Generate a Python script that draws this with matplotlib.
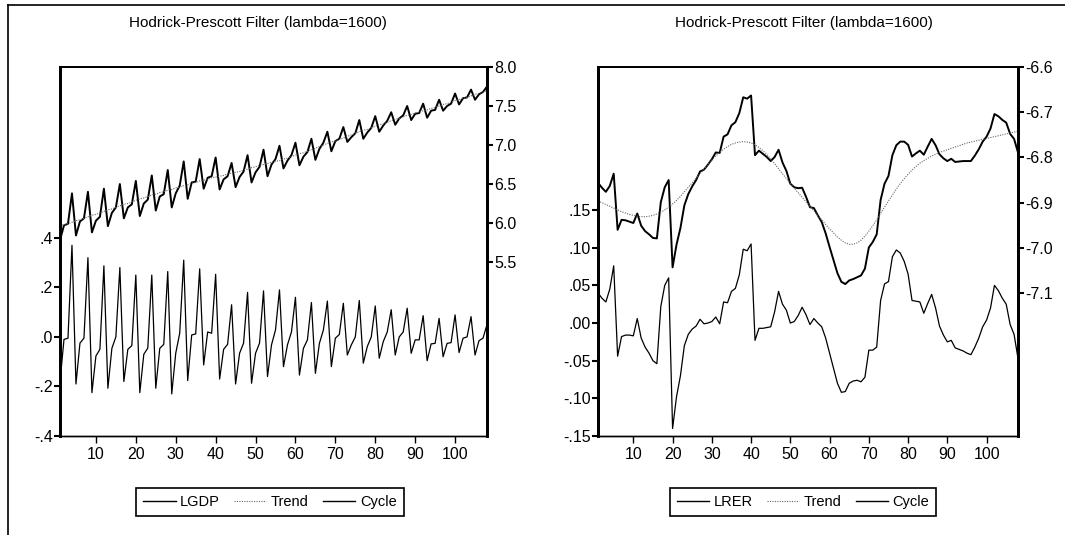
import matplotlib
matplotlib.use("Agg")
import matplotlib.pyplot as plt
from matplotlib.lines import Line2D

plt.rcParams['font.family'] = ['Liberation Sans', 'DejaVu Sans']

# quarterly observations 1..108
obs = list(range(1, 109))

# left panel: log GDP, its HP trend and the cycle
lgdp = [5.78, 5.97, 5.99, 6.38, 5.84, 6.02, 6.06, 6.40, 5.88, 6.03, 6.08, 6.44,
        5.96, 6.13, 6.20, 6.50, 6.06, 6.20, 6.24, 6.54, 6.09, 6.25, 6.30, 6.61,
        6.16, 6.34, 6.37, 6.68, 6.20, 6.38, 6.48, 6.79, 6.31, 6.52, 6.53, 6.82,
        6.44, 6.58, 6.60, 6.84, 6.43, 6.56, 6.60, 6.77, 6.46, 6.59, 6.66, 6.87,
        6.52, 6.65, 6.72, 6.94, 6.60, 6.75, 6.82, 6.99, 6.70, 6.80, 6.87, 7.03,
        6.74, 6.85, 6.91, 7.08, 6.81, 6.95, 7.03, 7.17, 6.92, 7.05, 7.08, 7.23,
        7.04, 7.10, 7.15, 7.32, 7.08, 7.16, 7.22, 7.37, 7.17, 7.25, 7.31, 7.42,
        7.26, 7.34, 7.38, 7.50, 7.32, 7.40, 7.41, 7.53, 7.35, 7.44, 7.45, 7.58,
        7.44, 7.50, 7.53, 7.66, 7.52, 7.60, 7.61, 7.71, 7.58, 7.65, 7.68, 7.75]
lgdp_trend = [5.96, 5.98, 5.99, 6.01, 6.03, 6.04, 6.06, 6.08, 6.10, 6.11, 6.13, 6.15,
              6.17, 6.18, 6.20, 6.22, 6.24, 6.25, 6.27, 6.29, 6.31, 6.32, 6.34, 6.36,
              6.37, 6.39, 6.40, 6.42, 6.43, 6.45, 6.46, 6.48, 6.49, 6.51, 6.52, 6.54,
              6.55, 6.56, 6.58, 6.59, 6.60, 6.61, 6.63, 6.64, 6.65, 6.66, 6.68, 6.69,
              6.71, 6.72, 6.74, 6.75, 6.76, 6.78, 6.79, 6.80, 6.82, 6.83, 6.85, 6.87,
              6.89, 6.90, 6.92, 6.94, 6.96, 6.98, 7.00, 7.02, 7.04, 7.05, 7.07, 7.09,
              7.11, 7.13, 7.15, 7.17, 7.19, 7.20, 7.22, 7.24, 7.26, 7.27, 7.29, 7.31,
              7.33, 7.34, 7.36, 7.38, 7.39, 7.41, 7.42, 7.44, 7.45, 7.47, 7.48, 7.50,
              7.52, 7.53, 7.55, 7.57, 7.58, 7.60, 7.61, 7.63, 7.65, 7.66, 7.68, 7.70]
lgdp_cycle = [-0.18, -0.01, -0.005, 0.37, -0.19, -0.025, -0.005, 0.32,
              -0.225, -0.077, -0.05, 0.287, -0.207, -0.046, 0.0, 0.28,
              -0.18, -0.05, -0.035, 0.25, -0.225, -0.07, -0.045, 0.25,
              -0.207, -0.046, -0.03, 0.264, -0.23, -0.066, 0.015, 0.31,
              -0.176, 0.008, 0.012, 0.275, -0.113, 0.02, 0.015, 0.253,
              -0.17, -0.05, -0.03, 0.13, -0.19, -0.066, -0.025, 0.18,
              -0.187, -0.066, -0.025, 0.186, -0.16, -0.032, 0.028, 0.19,
              -0.12, -0.032, 0.02, 0.16, -0.154, -0.046, -0.012, 0.139,
              -0.147, -0.026, 0.028, 0.145, -0.12, -0.005, 0.01, 0.136,
              -0.073, -0.032, 0.0, 0.147, -0.106, -0.039, 0.0, 0.125,
              -0.086, -0.019, 0.02, 0.11, -0.073, 0.0, 0.02, 0.116,
              -0.066, -0.012, -0.012, 0.086, -0.096, -0.028, -0.026, 0.075,
              -0.08, -0.026, -0.023, 0.089, -0.063, -0.005, 0.0, 0.082,
              -0.073, -0.015, -0.005, 0.05]

# right panel: log real exchange rate, its HP trend and the cycle
lrer = [-6.856, -6.867, -6.876, -6.863, -6.836, -6.960, -6.938, -6.939, -6.942, -6.945,
        -6.924, -6.951, -6.963, -6.970, -6.978, -6.979, -6.899, -6.866, -6.850, -7.043,
        -6.993, -6.956, -6.906, -6.881, -6.864, -6.850, -6.831, -6.827, -6.816, -6.804,
        -6.789, -6.790, -6.754, -6.749, -6.729, -6.722, -6.702, -6.667, -6.670, -6.663,
        -6.795, -6.785, -6.792, -6.799, -6.808, -6.799, -6.783, -6.811, -6.830, -6.858,
        -6.866, -6.868, -6.867, -6.887, -6.910, -6.912, -6.928, -6.943, -6.968, -6.998,
        -7.027, -7.056, -7.075, -7.080, -7.072, -7.069, -7.065, -7.061, -7.046, -6.999,
        -6.987, -6.970, -6.894, -6.858, -6.841, -6.795, -6.773, -6.765, -6.765, -6.772,
        -6.798, -6.791, -6.785, -6.794, -6.776, -6.759, -6.773, -6.793, -6.802, -6.808,
        -6.803, -6.810, -6.809, -6.808, -6.808, -6.808, -6.796, -6.782, -6.765, -6.754,
        -6.736, -6.704, -6.709, -6.717, -6.723, -6.748, -6.759, -6.789]
lrer_trend = [-6.896, -6.900, -6.904, -6.908, -6.912, -6.916, -6.920, -6.923, -6.926, -6.928,
              -6.930, -6.931, -6.931, -6.930, -6.928, -6.925, -6.921, -6.916, -6.910, -6.903,
              -6.895, -6.886, -6.876, -6.866, -6.856, -6.846, -6.836, -6.826, -6.816, -6.806,
              -6.797, -6.789, -6.782, -6.776, -6.771, -6.768, -6.766, -6.765, -6.766, -6.768,
              -6.772, -6.778, -6.785, -6.793, -6.803, -6.814, -6.825, -6.836, -6.847, -6.858,
              -6.868, -6.878, -6.888, -6.898, -6.908, -6.918, -6.928, -6.938, -6.948, -6.958,
              -6.967, -6.976, -6.983, -6.989, -6.992, -6.992, -6.989, -6.983, -6.974, -6.963,
              -6.951, -6.938, -6.924, -6.910, -6.896, -6.883, -6.870, -6.858, -6.847, -6.837,
              -6.828, -6.820, -6.813, -6.807, -6.802, -6.797, -6.793, -6.789, -6.786, -6.783,
              -6.780, -6.777, -6.774, -6.771, -6.768, -6.766, -6.764, -6.762, -6.760, -6.758,
              -6.756, -6.754, -6.752, -6.750, -6.748, -6.746, -6.744, -6.742]
lrer_cycle = [0.04, 0.033, 0.028, 0.045, 0.076, -0.044, -0.018, -0.016, -0.016, -0.017,
              0.006, -0.02, -0.032, -0.04, -0.05, -0.054, 0.022, 0.05, 0.06, -0.14,
              -0.098, -0.07, -0.03, -0.015, -0.008, -0.004, 0.005, -0.001, 0.0, 0.002,
              0.008, -0.001, 0.028, 0.027, 0.042, 0.046, 0.064, 0.098, 0.096, 0.105,
              -0.023, -0.007, -0.007, -0.006, -0.005, 0.015, 0.042, 0.025, 0.017, 0.0,
              0.002, 0.01, 0.021, 0.011, -0.002, 0.006, 0.0, -0.005, -0.02, -0.04,
              -0.06, -0.08, -0.092, -0.091, -0.08, -0.077, -0.076, -0.078, -0.072, -0.036,
              -0.036, -0.032, 0.03, 0.052, 0.055, 0.088, 0.097, 0.093, 0.082, 0.065,
              0.03, 0.029, 0.028, 0.013, 0.026, 0.038, 0.02, -0.004, -0.016, -0.025,
              -0.023, -0.033, -0.035, -0.037, -0.04, -0.042, -0.032, -0.02, -0.005, 0.004,
              0.02, 0.05, 0.043, 0.033, 0.025, -0.002, -0.015, -0.047]

x_ticks = [10, 20, 30, 40, 50, 60, 70, 80, 90, 100]

gdp_cyc_ticks = [-0.4, -0.2, 0.0, 0.2, 0.4]
gdp_cyc_labels = ["-.4", "-.2", ".0", ".2", ".4"]
gdp_lev_ticks = [5.5, 6.0, 6.5, 7.0, 7.5, 8.0]
gdp_lev_labels = ["5.5", "6.0", "6.5", "7.0", "7.5", "8.0"]

rer_cyc_ticks = [-0.15, -0.10, -0.05, 0.0, 0.05, 0.10, 0.15]
rer_cyc_labels = ["-.15", "-.10", "-.05", ".00", ".05", ".10", ".15"]
rer_lev_ticks = [-7.1, -7.0, -6.9, -6.8, -6.7, -6.6]
rer_lev_labels = ["-7.1", "-7.0", "-6.9", "-6.8", "-6.7", "-6.6"]

title = "Hodrick-Prescott Filter (lambda=1600)"

W, H = 1065, 535
fig = plt.figure(figsize=(W / 100, H / 100), dpi=100)


def panel(x0, x1, level, trend, cycle, name,
          cyc_ticks, cyc_labels, cyc_lim, lev_ticks, lev_labels, lev_lim,
          title_x, legend_x):
    ax = fig.add_axes([x0 / W, 1 - 436 / H, (x1 - x0) / W, (436 - 67) / H])
    ax2 = ax.twinx()

    ax.plot(obs, cycle, color="black", lw=0.9)
    ax2.plot(obs, level, color="black", lw=1.4)
    ax2.plot(obs, trend, color="#666666", lw=0.8, linestyle=(0, (1, 1.2)))

    ax.set_xlim(1, 108)
    ax.set_ylim(*cyc_lim)
    ax2.set_ylim(*lev_lim)

    ax.set_xticks(x_ticks)
    ax.set_yticks(cyc_ticks)
    ax.set_yticklabels(cyc_labels)
    ax2.set_yticks(lev_ticks)
    ax2.set_yticklabels(lev_labels)

    ax.tick_params(axis="x", direction="out", length=5, width=1, labelsize=11.5, pad=3)
    ax.tick_params(axis="y", direction="out", length=4, width=1.5, labelsize=11.5, pad=1)
    ax2.tick_params(axis="y", direction="out", length=4, width=1.5, labelsize=11.5, pad=1)

    for a in (ax, ax2):
        a.spines["left"].set_linewidth(2)
        a.spines["right"].set_linewidth(2)
        a.spines["top"].set_linewidth(1.3)
        a.spines["bottom"].set_linewidth(1)

    fig.text(title_x / W, 1 - 23 / H, title, ha="center", va="center", fontsize=11)

    handles = [Line2D([], [], color="black", lw=1.0),
               Line2D([], [], color="#666666", lw=0.8, linestyle=(0, (1, 1.2))),
               Line2D([], [], color="black", lw=1.0)]
    leg = fig.legend(handles, [name, "Trend", "Cycle"], loc="center",
                     bbox_to_anchor=(legend_x / W, 1 - 502 / H), ncol=3,
                     fancybox=False, edgecolor="black", framealpha=1,
                     fontsize=10.5, handlelength=2.2, handletextpad=0.3,
                     columnspacing=1.0, borderpad=0.5)
    leg.get_frame().set_linewidth(1.2)


panel(60, 487, lgdp, lgdp_trend, lgdp_cycle, "LGDP",
      gdp_cyc_ticks, gdp_cyc_labels, (-0.4, 1.09),
      gdp_lev_ticks, gdp_lev_labels, (3.27, 8.0), 258, 270)

panel(598, 1018, lrer, lrer_trend, lrer_cycle, "LRER",
      rer_cyc_ticks, rer_cyc_labels, (-0.15, 0.34),
      rer_lev_ticks, rer_lev_labels, (-7.416, -6.6), 804, 803)

# outer page border from the scan
fig.add_artist(Line2D([7.5 / W, 7.5 / W], [0, 1 - 5 / H], color="black", lw=1.2))
fig.add_artist(Line2D([7.5 / W, 1.0], [1 - 5 / H, 1 - 5 / H], color="black", lw=1.2))

fig.savefig("out.png", dpi=100)
